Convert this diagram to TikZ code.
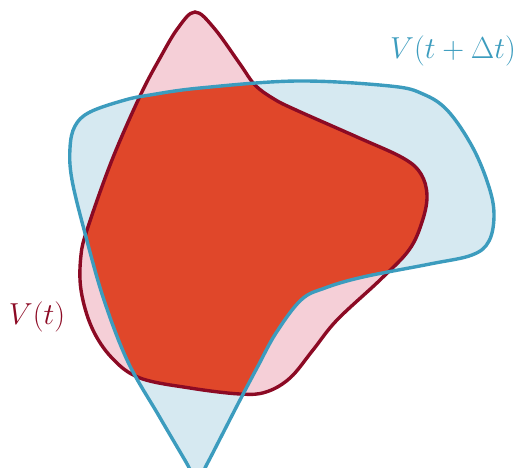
\documentclass[tikz,border=0pt]{standalone}
\usepackage{tikz}
\usepackage{graphicx}
\definecolor{redline}{HTML}{8C0A24}
\definecolor{redfill}{HTML}{F5CFD7}
\definecolor{blueline}{HTML}{3C9CBE}
\definecolor{bluefill}{HTML}{D6E9F1}
\definecolor{overlap}{HTML}{E0472A}
\tikzset{
  redshape/.style={line width=3.4pt, draw=redline},
  blueshape/.style={line width=3.4pt, draw=blueline},
  lbl/.style={inner sep=0pt, font=\fontsize{24.88}{28}\selectfont}
}
\begin{document}
\begin{tikzpicture}[x=1pt,y=-1pt]
\useasboundingbox (0,0) rectangle (515,467);
\clip (0,0) rectangle (515,467);
\def\redpath{plot[smooth cycle, tension=0.6] coordinates {
  (195,12) (214,28) (240,64) (255,85) (274,99) (296,110) (357,137) (403,158)
  (421,174) (427,196) (422,222) (409,250) (380,280) (337,320) (313,350)
  (290,378) (266,392) (240,394) (190,388) (140,378) (112,358) (92,328)
  (81,290) (81,255) (88,227) (112,160) (140,96) (160,58) (178,28)}}
\def\bluepath{plot[smooth cycle, tension=0.6] coordinates {
  (197,481) (186,462) (159,416) (128,362) (104,300) (86,237)
  (72,180) (70,148) (75,126) (90,112) (125,100) (150,95) (200,88) (297,81)
  (390,86) (423,94) (448,111) (473,148) (489,187) (494,215) (489,241)
  (472,255) (430,264) (363,277) (325,288) (301,300) (276,333)
  (258,366) (240,400) (222,435) (207,464)}}
\fill[redfill] \redpath;
\fill[bluefill] \bluepath;
\begin{scope}
  \clip \redpath;
  \fill[overlap] \bluepath;
\end{scope}
\draw[redshape] \redpath;
\draw[blueshape] \bluepath;
\node[lbl, text=blueline] (lblb) at (453,51) {\scalebox{1.22}{$V(t+\Delta t)$}};
\node[lbl, text=redline] (lblr) at (37,317) {\scalebox{1.22}{$V(t)$}};
\end{tikzpicture}
\end{document}
